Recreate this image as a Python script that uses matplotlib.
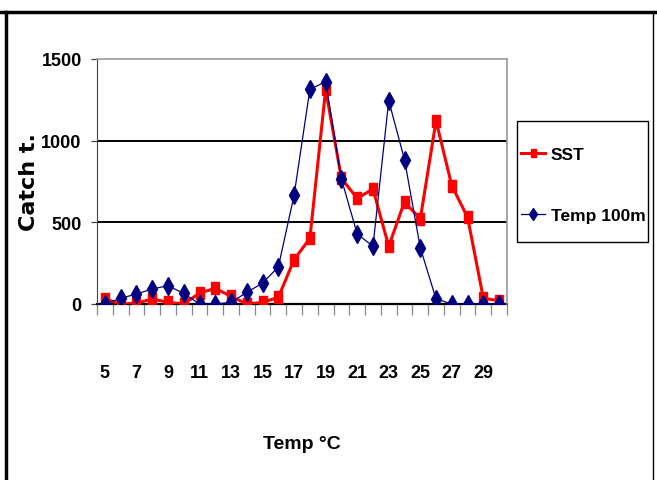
import matplotlib
matplotlib.use("Agg")
import matplotlib.pyplot as plt
from matplotlib.lines import Line2D
from matplotlib.patches import Rectangle
from matplotlib.ticker import FixedLocator, NullFormatter

# ---- data ----
temps = list(range(5, 31))  # categories 5..30
sst = [31, 0, 4, 31, 10, 0, 67, 96, 47, 0, 10, 41, 272, 402, 1314,
       769, 647, 704, 353, 626, 520, 1122, 724, 531, 35, 20]
temp100 = [0, 35, 61, 92, 112, 65, 0, 0, 10, 71, 128, 227, 667, 1314, 1361,
           765, 429, 353, 1245, 884, 345, 31, 0, 0, 0, 0]
xtick_labels = [str(t) for t in range(5, 30, 2)]
yticks = [0, 500, 1000, 1500]
series_names = ["SST", "Temp 100m"]
xlabel = "Temp °C"
ylabel = "Catch t."

FONT = ["Liberation Sans", "DejaVu Sans"]

fig = plt.figure(figsize=(6.57, 4.81), dpi=100)
W, H = 657, 481
ax = fig.add_axes([97 / W, 1 - 305 / H, 410 / W, 245 / H])

x = list(range(len(temps)))
rect = [(-0.3, -0.5), (0.3, -0.5), (0.3, 0.5), (-0.3, 0.5), (-0.3, -0.5)]
l1, = ax.plot(x, sst, color="#FF0000", lw=2.2, marker=rect, ms=9,
              markeredgecolor="#FF0000", markerfacecolor="#FF0000", zorder=3)
l2, = ax.plot(x, temp100, color="#000080", lw=0.9, marker="d", ms=9,
              markeredgecolor="#000080", markerfacecolor="#000080", zorder=4)

ax.set_xlim(-0.5, len(temps) - 0.5)
ax.set_ylim(0, 1500)

# grid
for v in yticks[1:-1]:
    ax.axhline(v, color="black", lw=1.4, zorder=1)
ax.axhline(0, color="black", lw=1.6, zorder=2, clip_on=False)

for s in ["top", "right"]:
    ax.spines[s].set_color("#999999")
    ax.spines[s].set_linewidth(1.2)
ax.spines["left"].set_color("#444444")
ax.spines["left"].set_linewidth(0.8)
ax.spines["bottom"].set_visible(False)

# x ticks: labels at every other category, tick marks at boundaries
ax.set_xticks(list(range(0, len(temps) - 1, 2)))
ax.set_xticklabels(xtick_labels, fontfamily=FONT, fontweight="bold", fontsize=13)
ax.tick_params(axis="x", which="major", length=0, pad=43)
ax.xaxis.set_minor_locator(FixedLocator([i - 0.5 for i in range(len(temps) + 1)]))
ax.xaxis.set_minor_formatter(NullFormatter())
ax.tick_params(axis="x", which="minor", length=8, width=0.9, color="#888888")

ax.set_yticks(yticks)
ax.set_yticklabels([str(v) for v in yticks], fontfamily=FONT, fontweight="bold", fontsize=13)
ax.tick_params(axis="y", length=4, width=0.9, color="#444444", pad=7)

ax.set_xlabel(xlabel, fontfamily=FONT, fontweight="bold", fontsize=14, va="center")
ax.xaxis.set_label_coords(0.5, (305 - 445) / 245)
ax.set_ylabel(ylabel, fontfamily="DejaVu Sans", fontweight="bold", fontsize=16, va="center")
ax.yaxis.set_label_coords((29 - 97) / 410, 0.5)

# legend box
fig.add_artist(Rectangle((517 / W, 1 - 243 / H), (648 - 517) / W, (243 - 122) / H,
                         transform=fig.transFigure, fill=False, edgecolor="black",
                         lw=1.0))
leg = fig.legend([l1, l2], series_names, loc="center left",
                 bbox_to_anchor=(521 / W, 1 - (122 + 250) / 2 / H),
                 frameon=False,
                 prop={"family": FONT, "weight": "bold", "size": 12.5},
                 labelspacing=2.6, borderpad=0, handlelength=1.4,
                 handletextpad=0.3, borderaxespad=0)
for h in leg.legend_handles:
    h.set_markersize(6)

# outer border
fig.add_artist(Line2D([0, 1], [1 - 13 / H, 1 - 13 / H], color="black", lw=2.5,
                      transform=fig.transFigure))
fig.add_artist(Line2D([6 / W, 6 / W], [0, 1 - 13 / H], color="black", lw=2.5,
                      transform=fig.transFigure))
fig.add_artist(Line2D([653 / W, 653 / W], [0, 1 - 13 / H], color="black", lw=1.0,
                      transform=fig.transFigure))

fig.savefig("out.png", dpi=100)
